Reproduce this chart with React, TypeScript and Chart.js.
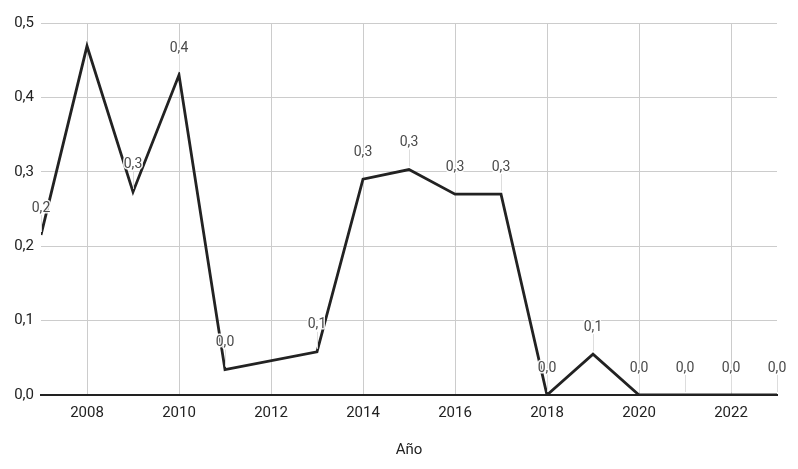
import React, { useEffect, useRef } from "react";
import { Chart, registerables } from "chart.js";

Chart.register(...registerables);

const years = [2007, 2008, 2009, 2010, 2011, 2012, 2013, 2014, 2015, 2016, 2017, 2018, 2019, 2020, 2021, 2022, 2023];
const values: (number | null)[] = [0.215, 0.469, 0.273, 0.43, 0.034, null, 0.058, 0.29, 0.303, 0.27, 0.27, 0, 0.055, 0, 0, 0, 0];
const xTicks = [2008, 2010, 2012, 2014, 2016, 2018, 2020, 2022];
const yTicks = [0, 0.1, 0.2, 0.3, 0.4, 0.5];
const xTitle = "Año";

const FONT = "Roboto, 'Noto Sans', sans-serif";

const fmt = (v: number) => v.toFixed(1).replace(".", ",");

const labelPlugin = {
  id: "pointLabels",
  afterDatasetsDraw(chart: any) {
    const ctx = chart.ctx;
    const meta = chart.getDatasetMeta(0);
    const area = chart.chartArea;
    ctx.save();
    ctx.font = `14px ${FONT}`;
    ctx.textAlign = "center";
    ctx.textBaseline = "middle";
    meta.data.forEach((pt: any, i: number) => {
      const v = values[i];
      if (v === null || v === undefined) return;
      const ly = pt.y - 27;
      if (ly < area.top) return;
      ctx.strokeStyle = "#dddddd";
      ctx.lineWidth = 1;
      ctx.beginPath();
      ctx.moveTo(Math.round(pt.x) + 0.5, pt.y - 3);
      ctx.lineTo(Math.round(pt.x) + 0.5, ly + 7);
      ctx.stroke();
      const t = fmt(v);
      ctx.lineWidth = 3;
      ctx.strokeStyle = "rgba(255,255,255,0.9)";
      ctx.lineJoin = "round";
      ctx.strokeText(t, pt.x, ly);
      ctx.fillStyle = "#4a4a4a";
      ctx.fillText(t, pt.x, ly);
    });
    ctx.restore();
  },
};

export default function App() {
  const ref = useRef<HTMLCanvasElement>(null);
  useEffect(() => {
    if (!ref.current) return;
    const chart = new Chart(ref.current, {
      type: "line",
      data: {
        datasets: [
          {
            data: years.map((y, i) => ({ x: y, y: values[i] as any })),
            borderColor: "#222222",
            borderWidth: 2.8,
            pointRadius: 0,
            spanGaps: true,
            tension: 0,
          },
        ],
      },
      options: {
        responsive: false,
        animation: false,
        layout: { padding: { left: 0, right: 21, top: 23, bottom: 0 } },
        plugins: { legend: { display: false }, tooltip: { enabled: false } },
        scales: {
          x: {
            type: "linear",
            min: 2007,
            max: 2023,
            afterBuildTicks: (axis: any) => {
              axis.ticks = xTicks.map((v) => ({ value: v }));
            },
            afterFit: (axis: any) => {
              axis.height = 74;
            },
            grid: { color: "#cccccc", lineWidth: 1, drawTicks: false },
            border: { display: true, color: "#222222", width: 2 },
            ticks: {
              padding: 9,
              color: "#222222",
              font: { family: FONT, size: 15 },
              callback: (v: any) => String(v),
              maxRotation: 0,
            },
            title: {
              display: true,
              text: xTitle,
              color: "#222222",
              font: { family: FONT, size: 15 },
              padding: { top: 4, bottom: 10 },
            },
          },
          y: {
            min: 0,
            max: 0.5,
            afterBuildTicks: (axis: any) => {
              axis.ticks = yTicks.map((v) => ({ value: v }));
            },
            afterFit: (axis: any) => {
              axis.width = 41;
            },
            grid: { color: "#cccccc", lineWidth: 1, drawTicks: false },
            border: { display: false },
            ticks: {
              padding: 7,
              color: "#222222",
              font: { family: FONT, size: 15 },
              callback: (v: any) => fmt(Number(v)),
            },
          },
        },
      },
      plugins: [labelPlugin],
    } as any);
    return () => chart.destroy();
  }, []);
  return (
    <div style={{ position: "fixed", left: 0, top: 0, width: 798, height: 469, background: "#fff" }}>
      <canvas ref={ref} width={798} height={469} />
    </div>
  );
}
